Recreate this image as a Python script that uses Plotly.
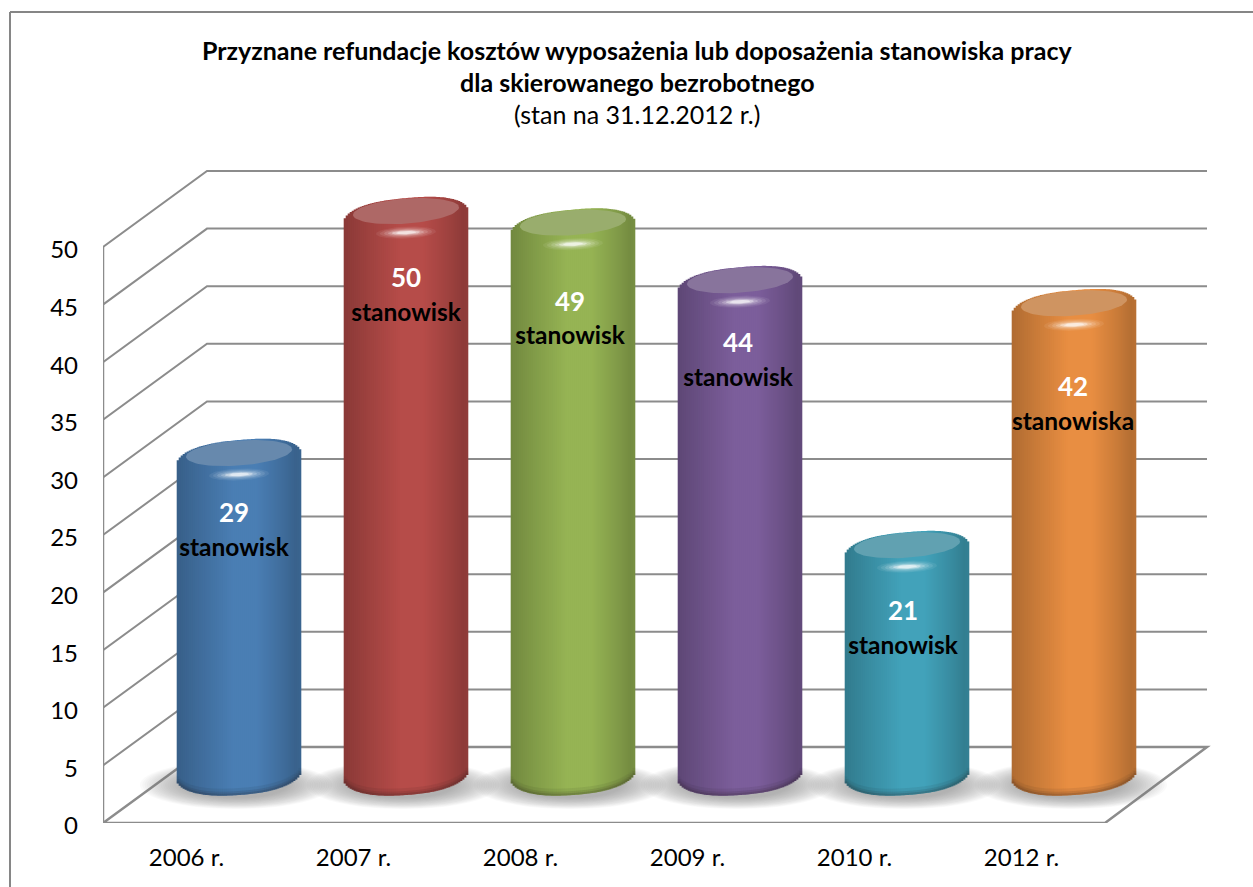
import numpy as np
import plotly.graph_objects as go

categories = ["2006 r.", "2007 r.", "2008 r.", "2009 r.", "2010 r.", "2012 r."]
values = [29, 50, 49, 44, 21, 42]
units = ["stanowisk", "stanowisk", "stanowisk", "stanowisk", "stanowisk", "stanowiska"]
y_ticks = [0, 5, 10, 15, 20, 25, 30, 35, 40, 45, 50]
title_lines = ["Przyznane refundacje kosztów wyposażenia lub doposażenia stanowiska pracy",
               "dla skierowanego bezrobotnego", "(stan na 31.12.2012 r.)"]

base_colors = [(74, 126, 180), (182, 76, 73), (150, 180, 84), (124, 94, 155), (66, 162, 186), (232, 142, 66)]
label_drop_px = [57, 64, 76, 60, 63, 81]     # distance of the number label under the top of each column
label_dx_px = [-5, 0, -3, -2, -4, -1]

PX_X, PX_Y = 167.0, 11.52
L, R, T, B = 103, 1253, 12, 823
W, H = 1253, 887
x_rng = [-0.5, -0.5 + (R - L) / PX_X]
y_rng = [0, (B - T) / PX_Y]
DX, DY = 104 / PX_X, 76 / PX_Y            # depth of the box
BACK_RIGHT = -0.5 + (1207 - L) / PX_X
FRONT_RIGHT = -0.5 + (1105 - L) / PX_X
BAR_SHIFT_X = 52.5 / PX_X
TOP_SHIFT = 30.4 / PX_Y
BOTTOM_Y = 47 / PX_Y
HALF = 62 / PX_X
TOP_TILT, BOT_TILT = 0.09, 0.07
GRID = "rgb(140,140,140)"

shapes = []
def poly(xs, ys, **kw):
    d = "M" + " L".join(f"{a:.4f},{b:.4f}" for a, b in zip(xs, ys))
    shapes.append(dict(type="path", path=d, xref="x", yref="y", layer="below", **kw))

# walls
for v in y_ticks[1:]:
    poly([-0.5, -0.5 + DX, BACK_RIGHT], [v, v + DY, v + DY], line=dict(color=GRID, width=2))
poly([-0.5, -0.5], [0, max(y_ticks)], line=dict(color=GRID, width=2.5))
# floor
poly([-0.5, FRONT_RIGHT, BACK_RIGHT, -0.5 + DX, -0.5], [0, 0, DY, DY, 0], line=dict(color=GRID, width=2.5))

# floor shadows
for i in range(len(values)):
    cx = i + BAR_SHIFT_X - 3 / PX_X
    cy = 38 / PX_Y
    for k in range(20):
        f = 1 - k * 0.024
        shapes.append(dict(type="circle", xref="x", yref="y", layer="below",
                           x0=cx - 96 / PX_X * f, x1=cx + 96 / PX_X * f,
                           y0=cy - 24 / PX_Y * f, y1=cy + 24 / PX_Y * f,
                           fillcolor="rgba(130,130,130,0.04)", line=dict(width=0)))

# frame of the chart
fx = lambda p: (p - L) / (R - L)
shapes.append(dict(type="line", xref="paper", yref="paper", x0=fx(10), x1=fx(1253), y0=(B - 12) / (B - T), y1=(B - 12) / (B - T),
                   line=dict(color="rgb(134,134,134)", width=2)))
shapes.append(dict(type="line", xref="paper", yref="paper", x0=fx(10), x1=fx(10), y0=(B - 12) / (B - T), y1=(B - 887) / (B - T),
                   line=dict(color="rgb(134,134,134)", width=2)))

prof_t = [-1.0, -0.93, -0.6, -0.1, 0.3, 0.7, 0.93, 1.0]
prof_v = [0.76, 0.78, 0.87, 1.0, 1.0, 0.87, 0.78, 0.80]

def shade(c, f):
    return "rgb(%d,%d,%d)" % tuple(min(255, int(ch * f)) for ch in c)

N = 62
ts = (np.arange(N) + 0.5) / N * 2 - 1
fig = go.Figure()

for i, (v, c) in enumerate(zip(values, base_colors)):
    cx = i + BAR_SHIFT_X
    xs = cx + ts * HALF
    cy_top = v + TOP_SHIFT
    edge = np.abs(ts)
    upper = cy_top + TOP_TILT * ts * 62 / PX_Y + (18.5 / PX_Y) * (1 - edge ** 2.6) ** 0.5
    lower = BOTTOM_Y + BOT_TILT * ts * 62 / PX_Y - (19 / PX_Y) * (1 - edge ** 2.4) ** 0.55
    cols = [shade(c, np.interp(t, prof_t, prof_v)) for t in ts]
    fig.add_trace(go.Bar(x=xs, y=upper - lower, base=lower, width=[2.6 / PX_X] * N,
                         marker=dict(color=cols, line=dict(width=0)), hoverinfo="skip", showlegend=False))
    # darker rim at the foot of the column
    for h, a in [(7, 0.06), (4, 0.09), (2, 0.12)]:
        fig.add_trace(go.Bar(x=xs, y=[h / PX_Y] * N, base=lower, width=[2.6 / PX_X] * N,
                             marker=dict(color=f"rgba(40,30,30,{a})", line=dict(width=0)),
                             hoverinfo="skip", showlegend=False))

ang = np.linspace(0, 2 * np.pi, 73)
def tilted(cx_u, cy_u, rx_px, ry_px, tilt):
    ex = rx_px * np.cos(ang)
    ey = ry_px * np.sin(ang) + tilt * ex
    return cx_u + ex / PX_X, cy_u + ey / PX_Y

for i, (v, c) in enumerate(zip(values, base_colors)):
    cx = i + BAR_SHIFT_X
    cy_top = v + TOP_SHIFT
    # top face
    fx_, fy_ = tilted(cx + 0 / PX_X, cy_top + 5.5 / PX_Y, 53, 12.5, 0.07)
    face = "rgb(%d,%d,%d)" % tuple(int(ch * 0.66 + 160 * 0.34) for ch in c)
    fig.add_trace(go.Scatter(x=fx_, y=fy_, mode="lines", fill="toself", fillcolor=face,
                             line=dict(width=0), hoverinfo="skip", showlegend=False))
    # highlight under the rim
    for rx, ry, a in [(30, 6, 0.07), (26, 5, 0.10), (22, 4, 0.14), (18, 3, 0.22), (14, 2.2, 0.4), (10, 1.6, 0.5)]:
        hx, hy = tilted(cx + 0 / PX_X, cy_top - 16 / PX_Y, rx, ry, 0.04)
        fig.add_trace(go.Scatter(x=hx, y=hy, mode="lines", fill="toself", fillcolor=f"rgba(255,255,255,{a})",
                                 line=dict(width=0), hoverinfo="skip", showlegend=False))

# labels
num_x = [i + BAR_SHIFT_X + d / PX_X for i, d in enumerate(label_dx_px)]
num_y = [v + TOP_SHIFT - d / PX_Y for v, d in zip(values, label_drop_px)]
unit_y = [y - 34 / PX_Y for y in num_y]
fig.add_trace(go.Scatter(x=num_x, y=num_y, mode="text", text=[str(v) for v in values],
                         textfont=dict(family="Lato", size=26, color="white", weight="bold"),
                         hoverinfo="skip", showlegend=False))
fig.add_trace(go.Scatter(x=num_x, y=unit_y, mode="text", text=units,
                         textfont=dict(family="Lato", size=24.5, color="black", weight="bold"),
                         hoverinfo="skip", showlegend=False))

annotations = [
    dict(text=f"<b>{title_lines[0]}</b>", y=50, size=25),
    dict(text=f"<b>{title_lines[1]}</b>", y=82, size=25),
    dict(text=title_lines[2], y=114, size=25),
]
annotations = [dict(text=a["text"], xref="paper", yref="paper", x=fx(637), y=(B - a["y"]) / (B - T),
                    xanchor="center", yanchor="middle", showarrow=False,
                    font=dict(family="Lato", size=a["size"], color="black")) for a in annotations]

fig.update_layout(
    width=W, height=H, margin=dict(l=L, r=W - R, t=T, b=H - B),
    paper_bgcolor="white", plot_bgcolor="white", barmode="overlay", showlegend=False,
    shapes=shapes, annotations=annotations,
    font=dict(family="Lato", size=24, color="black"),
    xaxis=dict(range=x_rng, tickmode="array", tickvals=list(range(len(categories))), ticktext=categories,
               showgrid=False, zeroline=False, showline=False, ticks="", ticklabelstandoff=18,
               tickfont=dict(family="Lato", size=24, color="black")),
    yaxis=dict(range=y_rng, tickmode="array", tickvals=y_ticks, showgrid=False, zeroline=False,
               showline=False, ticks="", ticklabelstandoff=24, ticklabelshift=3,
               tickfont=dict(family="Lato", size=24, color="black")),
)
fig.write_html("out.html", config=dict(displayModeBar=False), post_script="document.body.style.margin='0';")
